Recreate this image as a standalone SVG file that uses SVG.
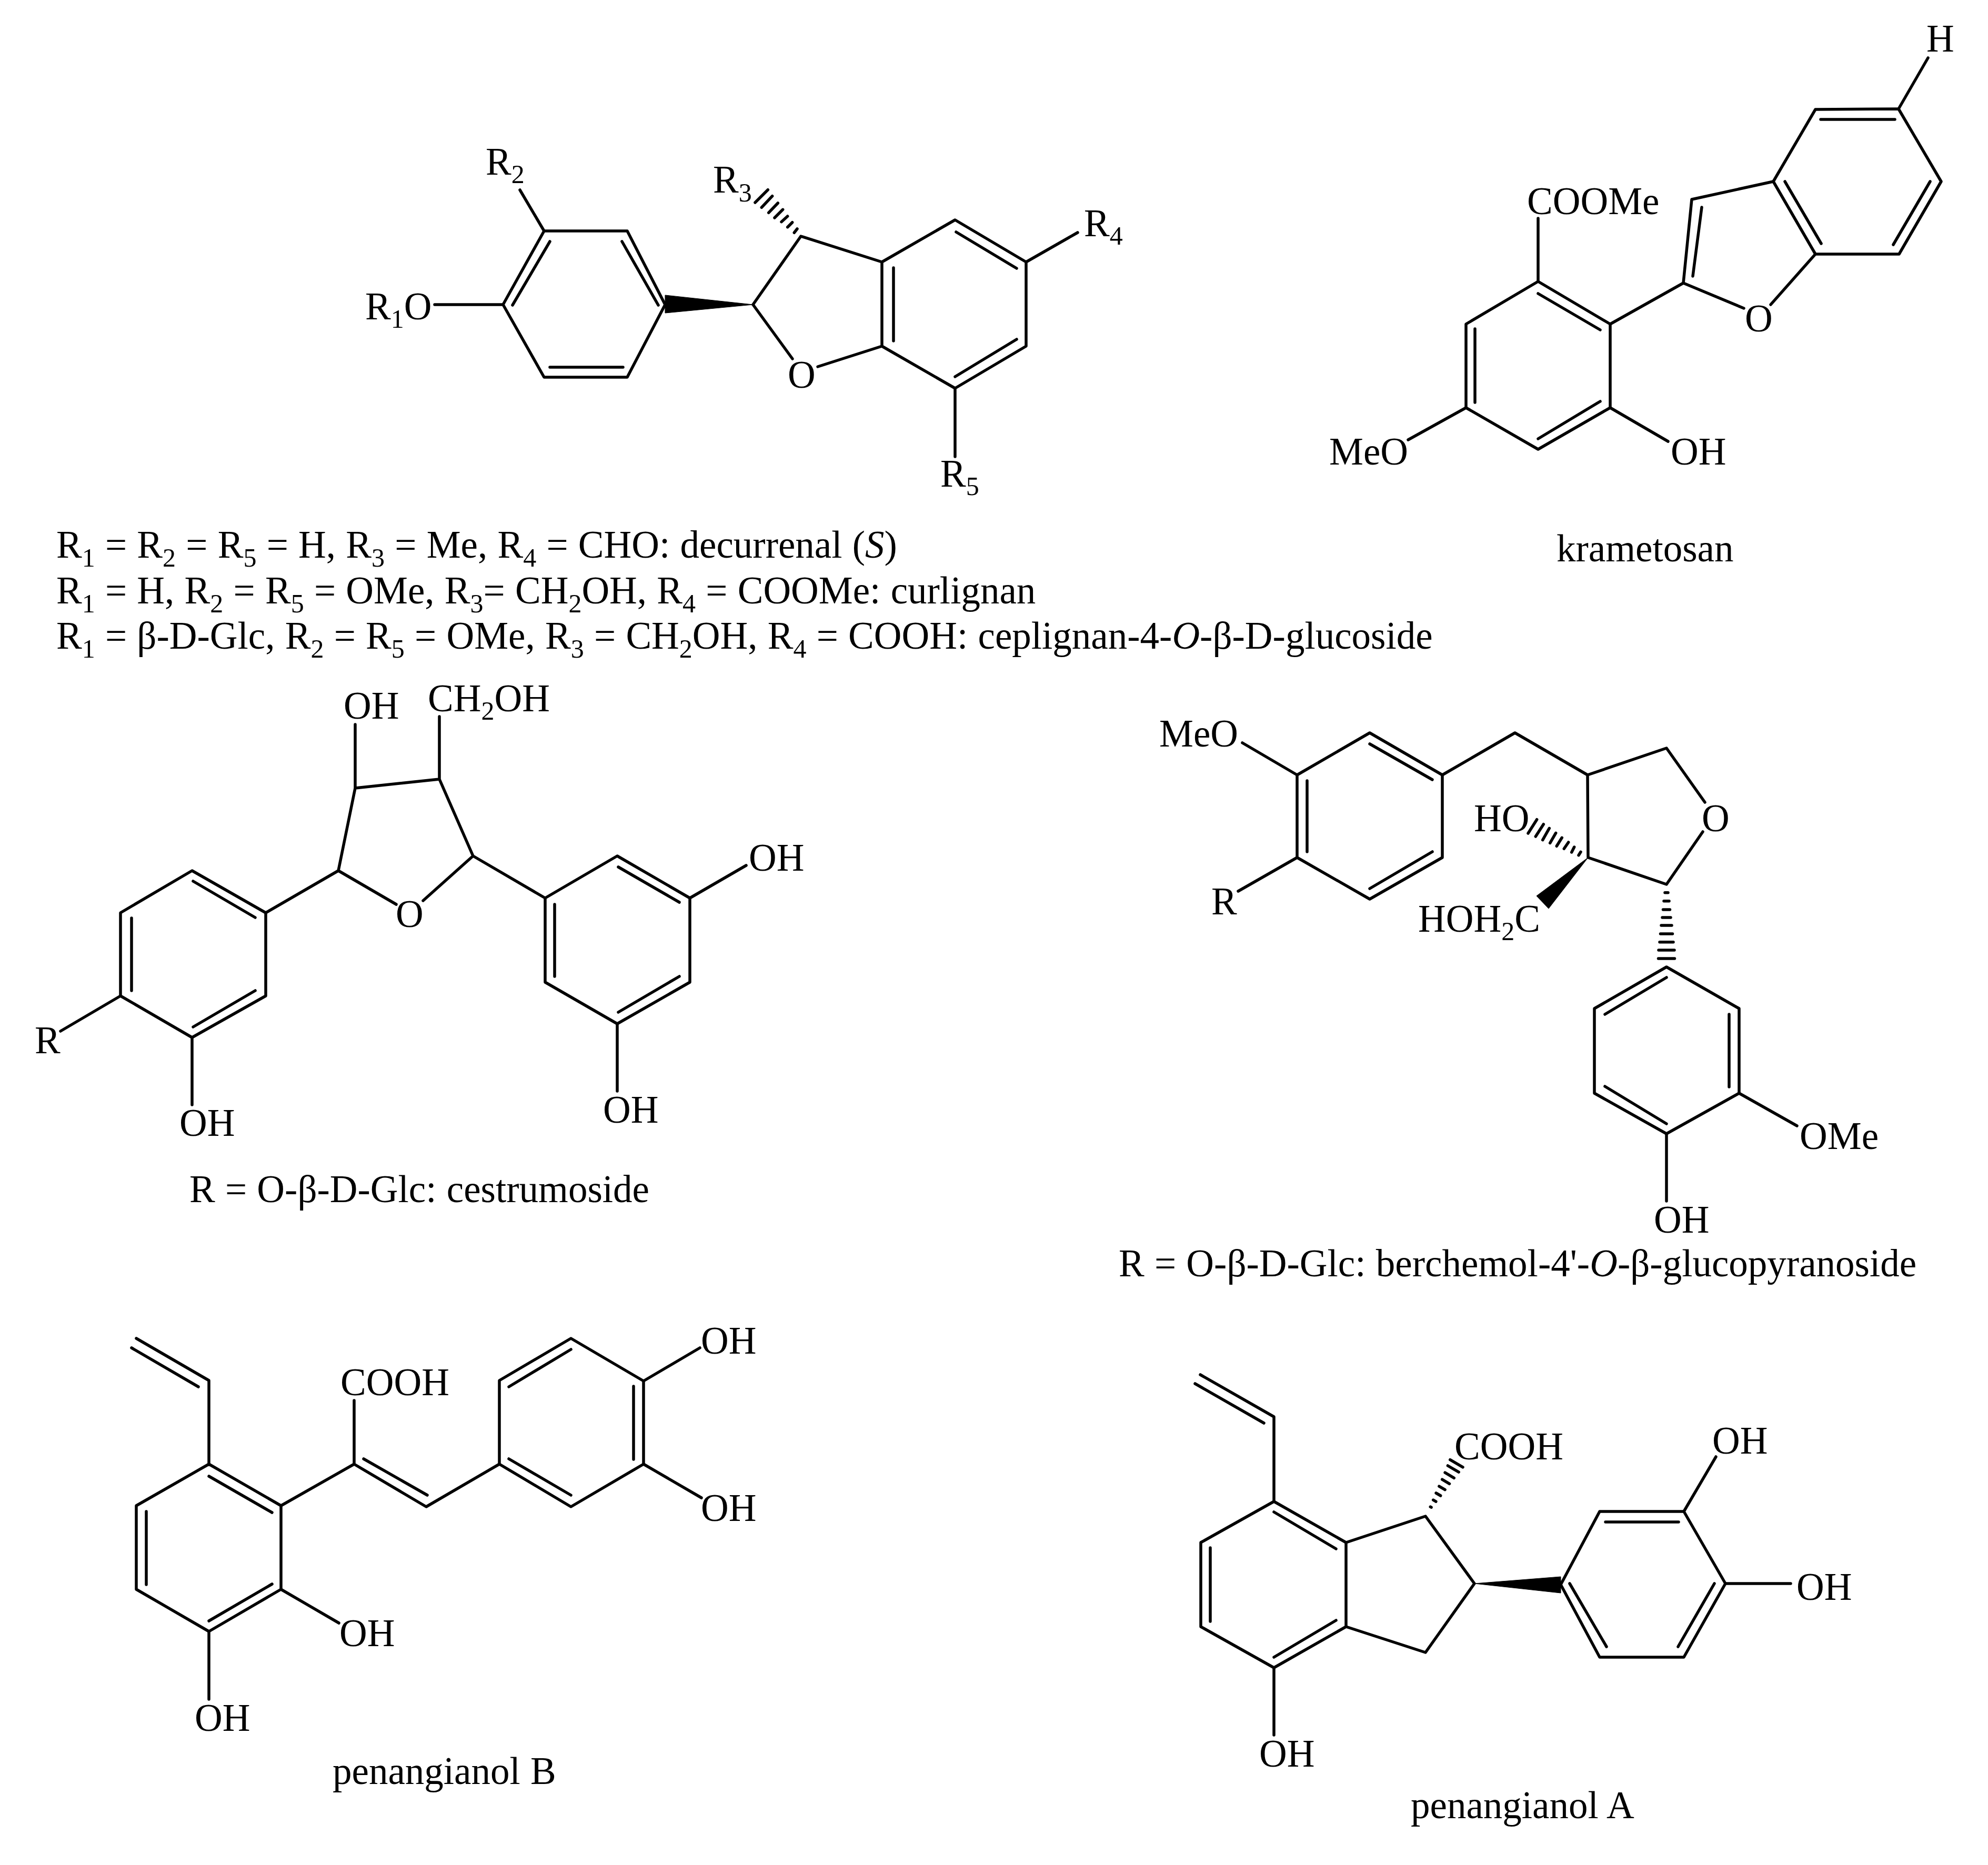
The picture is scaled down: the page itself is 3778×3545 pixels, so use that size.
<svg xmlns="http://www.w3.org/2000/svg" width="3778" height="3545" viewBox="0 0 3778 3545">
<style>
text{font-family:"Liberation Serif","Times New Roman",serif;font-size:73px;word-spacing:1px;fill:#000}
.s{font-size:50px}
.i{font-style:italic}
.b{fill:none;stroke:#000;stroke-width:5.5;stroke-linecap:round;stroke-linejoin:round}
.h{fill:none;stroke:#000;stroke-width:5.5;stroke-linecap:round}
.w{fill:#000;stroke:#000;stroke-width:1}
</style>
<rect width="3778" height="3545" fill="#fff"/>
<g id="connectors">
<g id="bonds-decurrenal">
<path class="b" d="M1034 439L1192 439L1264 579L1192 717L1034 717L956 579Z"/>
<path class="b" d="M826 579L956 579M988 361L1034 439M1045 459L974 580M1182 459L1251 580M1045 698L1184 698"/>
<path class="b" d="M1431 579L1522 449L1676 498L1815 418L1950 498L1950 658L1815 738L1676 658L1676 498M1431 579L1506 682M1554 697L1676 658M1815 738L1815 868M1950 498L2048 442M1698 509L1698 648M1817 441L1932 510M1932 645L1815 716"/>
<polygon class="w" points="1431,579 1264,561 1264,595"/>
<path class="h" d="M1435 385L1459.3 360.7M1447.3 394.3L1467.7 372.7M1460.7 404.3L1478.3 386M1472 414L1487.7 398.3M1485 421.7L1496.7 411M1496.7 431.7L1505.7 422.7M1509.3 442.3L1515 435"/>
</g>
<g id="bonds-krametosan">
<path class="b" d="M3608 207L3450 208L3370 345L3450 483L3609 483L3689 345Z"/>
<path class="b" d="M3608 207L3664 110M3460 227L3601 227M3392 345L3461 463M3598 465L3668 345M3370 345L3215 379L3199 538L3060 616M3234 394L3217 525M3450 483L3365 579M3199 538L3314 586"/>
<path class="b" d="M2923 535L3060 616L3060 775L2923 854L2786 775L2786 616Z"/>
<path class="b" d="M2923 535L2923 415M2923 558L3041 627M2803 625L2803 765M3041 763L2923 834M2786 775L2676 836M3060 775L3170 839"/>
</g>
<g id="bonds-cestrumoside">
<path class="b" d="M365 1655L505 1735L505 1893L365 1972L229 1893L229 1735Z"/>
<path class="b" d="M367 1675L485 1744M250 1745L250 1883M485 1883L367 1952M229 1893L115 1960M365 1972L365 2100"/>
<path class="b" d="M505 1735L643 1655L675 1498L835 1481L899 1627L1036 1707M643 1655L753 1719M899 1627L804 1712M675 1498L675 1377M835 1481L835 1362"/>
<path class="b" d="M1036 1707L1173 1627L1311 1707L1311 1867L1173 1946L1036 1867Z"/>
<path class="b" d="M1175 1648L1291 1715M1054 1719L1054 1856M1291 1856L1175 1924M1311 1707L1418 1645M1173 1946L1173 2074"/>
</g>
<g id="bonds-berchemol">
<path class="b" d="M2603 1393L2741 1473L2741 1630L2603 1709L2465 1630L2465 1473Z"/>
<path class="b" d="M2603 1414L2722 1482M2484 1484L2484 1619M2722 1619L2603 1689M2465 1473L2361 1412M2465 1630L2353 1694"/>
<path class="b" d="M2741 1473L2879 1393L3017 1473L3167 1422L3240 1525M3236 1581L3167 1681L3018 1630L3017 1473"/>
<polygon class="w" points="3018,1630 2920,1703 2943,1727"/>
<path class="h" d="M2904 1584L2920.7 1557.7M2918.3 1590L2933.3 1566.7M2931.7 1596.7L2944.3 1574.3M2945.7 1602.3L2956.7 1583.3M2958.3 1608.3L2968.3 1592.3M2972.3 1613.3L2980.7 1601M2986.7 1620L2991.7 1610M3000 1625.7L3004 1619.3"/>
<path class="h" d="M3164 1696.7H3170M3162 1712.7H3172M3160.5 1729H3173.5M3159 1744H3175M3157 1759H3177M3155.5 1775H3178.5M3154 1790.7H3180M3152 1806H3182M3151.5 1822H3182.5"/>
<path class="b" d="M3167 1838L3305 1917L3305 2078L3167 2155L3030 2078L3030 1917Z"/>
<path class="b" d="M3167 1858L3050 1928M3286 1928L3286 2066M3050 2065L3167 2136M3305 2078L3415 2140M3167 2155L3167 2283"/>
</g>
<g id="bonds-penangianol-b">
<path class="b" d="M259 2544L397 2624L397 2783M250 2562L377 2636"/>
<path class="b" d="M397 2783L534 2862L534 3021L397 3101L259 3021L259 2862Z"/>
<path class="b" d="M397 2806L517 2875M278 2873L278 3012M517 3011L397 3081M534 2862L673 2783L810 2864L949 2783M673 2783L673 2662M691 2773L812 2842"/>
<path class="b" d="M949 2783L1085 2864L1223 2783L1223 2625L1085 2544L949 2624Z"/>
<path class="b" d="M967 2773L1085 2842M1204 2635L1204 2774M1085 2565L967 2636M1223 2625L1330 2562M1223 2783L1333 2847M534 3021L644 3085M397 3101L397 3230"/>
</g>
<g id="bonds-penangianol-a">
<path class="b" d="M2281 2613L2421 2693L2421 2854M2271 2630L2402 2705"/>
<path class="b" d="M2421 2854L2558 2932L2558 3092L2421 3170L2282 3092L2282 2932Z"/>
<path class="b" d="M2421 2874L2539 2944M2300 2942L2300 3082M2539 3080L2421 3150M2558 2932L2709 2882L2802 3010L2709 3141L2558 3092M2421 3170L2421 3298"/>
<polygon class="w" points="2802,3010 2966,2997 2966,3028"/>
<path class="h" d="M2718.3 2864.2L2720.1 2865.2M2723.7 2851.1L2728.9 2854.1M2729.1 2838L2737.7 2843M2734.9 2825.1L2746.1 2831.7M2740.7 2812.2L2754.5 2820.4M2746.1 2799.1L2763.3 2809.3M2751.4 2786L2772.2 2798.2M2755.8 2774.7L2780 2788.9"/>
<path class="b" d="M2966 3012L3040 2873L3200 2873L3279 3010L3200 3150L3040 3150Z"/>
<path class="b" d="M3051 2893L3190 2893M3258 3010L3189 3130M2983 3010L3053 3130M3200 2873L3261 2769M3279 3010L3403 3010"/>
</g>
</g>
<g id="decurrenal">
<text x="923" y="332">R<tspan class="s" dy="16">2</tspan></text>
<text x="1355" y="366">R<tspan class="s" dy="17">3</tspan></text>
<text x="2060" y="449">R<tspan class="s" dy="16">4</tspan></text>
<text x="1787" y="925">R<tspan class="s" dy="16">5</tspan></text>
<text x="694" y="607">R<tspan class="s" dy="16">1</tspan><tspan dy="-16">O</tspan></text>
<text x="1497" y="737">O</text>
<text x="107" y="1060">R<tspan class="s" dy="17">1</tspan><tspan dy="-17"> = R</tspan><tspan class="s" dy="17">2</tspan><tspan dy="-17"> = R</tspan><tspan class="s" dy="17">5</tspan><tspan dy="-17"> = H, R</tspan><tspan class="s" dy="17">3</tspan><tspan dy="-17"> = Me, R</tspan><tspan class="s" dy="17">4</tspan><tspan dy="-17"> = CHO: decurrenal (</tspan><tspan class="i">S</tspan>)</text>
<text x="107" y="1147">R<tspan class="s" dy="17">1</tspan><tspan dy="-17"> = H, R</tspan><tspan class="s" dy="17">2</tspan><tspan dy="-17"> = R</tspan><tspan class="s" dy="17">5</tspan><tspan dy="-17"> = OMe, R</tspan><tspan class="s" dy="17">3</tspan><tspan dy="-17">= CH</tspan><tspan class="s" dy="17">2</tspan><tspan dy="-17">OH, R</tspan><tspan class="s" dy="17">4</tspan><tspan dy="-17"> = COOMe: curlignan</tspan></text>
<text x="107" y="1233">R<tspan class="s" dy="17">1</tspan><tspan dy="-17"> = β-D-Glc, R</tspan><tspan class="s" dy="17">2</tspan><tspan dy="-17"> = R</tspan><tspan class="s" dy="17">5</tspan><tspan dy="-17"> = OMe, R</tspan><tspan class="s" dy="17">3</tspan><tspan dy="-17"> = CH</tspan><tspan class="s" dy="17">2</tspan><tspan dy="-17">OH, R</tspan><tspan class="s" dy="17">4</tspan><tspan dy="-17"> = COOH: ceplignan-4-</tspan><tspan class="i">O</tspan>-β-D-glucoside</text>
</g>
<g id="krametosan">
<text x="3661" y="98">H</text>
<text x="2902" y="407">COOMe</text>
<text x="3316" y="630">O</text>
<text x="2526" y="883">MeO</text>
<text x="3175" y="883">OH</text>
<text x="2958" y="1067">krametosan</text>
</g>
<g id="cestrumoside">
<text x="653" y="1366">OH</text>
<text x="813" y="1352">CH<tspan class="s" dy="16">2</tspan><tspan dy="-16">OH</tspan></text>
<text x="752" y="1762">O</text>
<text x="1423" y="1655">OH</text>
<text x="66" y="2002">R</text>
<text x="341" y="2159">OH</text>
<text x="1146" y="2134">OH</text>
<text x="360" y="2285">R = O-β-D-Glc: cestrumoside</text>
</g>
<g id="berchemol">
<text x="2203" y="1419">MeO</text>
<text x="2302" y="1738">R</text>
<text x="3234" y="1580">O</text>
<text x="2801" y="1580">HO</text>
<text x="2695" y="1771">HOH<tspan class="s" dy="16">2</tspan><tspan dy="-16">C</tspan></text>
<text x="3420" y="2184">OMe</text>
<text x="3143" y="2343">OH</text>
<text x="2126" y="2426">R = O-β-D-Glc: berchemol-4'-<tspan class="i">O</tspan>-β-glucopyranoside</text>
</g>
<g id="penangianol-b">
<text x="647" y="2652">COOH</text>
<text x="1332" y="2573">OH</text>
<text x="1332" y="2891">OH</text>
<text x="645" y="3129">OH</text>
<text x="370" y="3290">OH</text>
<text x="632" y="3391">penangianol B</text>
</g>
<g id="penangianol-a">
<text x="2764" y="2774">COOH</text>
<text x="3254" y="2763">OH</text>
<text x="3414" y="3041">OH</text>
<text x="2393" y="3358">OH</text>
<text x="2681" y="3456">penangianol A</text>
</g>
</svg>
